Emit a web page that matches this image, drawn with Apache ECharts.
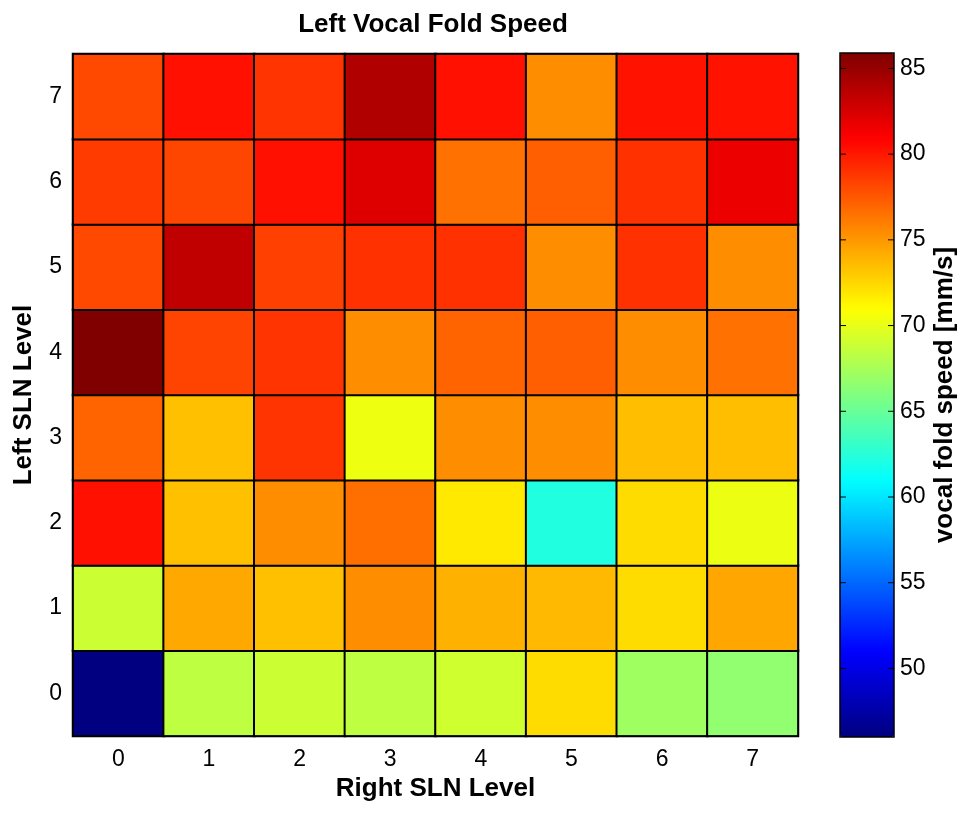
<!DOCTYPE html>
<html>
<head>
<meta charset="utf-8">
<script src="https://cdn.jsdelivr.net/npm/echarts@6/dist/echarts.min.js"></script>
<style>
html,body{margin:0;padding:0;background:#fff;}
#chart{width:967px;height:814px;}
</style>
</head>
<body>
<div id="chart"></div>
<script>
// Right SLN level (x) and Left SLN level (y) categories
const rightLevels = ['0','1','2','3','4','5','6','7'];
const leftLevels = ['0','1','2','3','4','5','6','7'];

// Left vocal fold speed [mm/s], one array per Left SLN level, values for Right SLN 0..7
const leftLevel0 = [46.0, 68.4, 68.9, 68.4, 69.1, 72.3, 67.2, 66.6];
const leftLevel1 = [68.9, 74.3, 73.4, 75.4, 74.0, 73.7, 72.3, 74.4];
const leftLevel2 = [80.3, 73.4, 75.4, 76.6, 71.8, 62.2, 72.3, 70.2];
const leftLevel3 = [77.0, 73.4, 78.9, 70.3, 75.4, 75.4, 73.5, 73.5];
const leftLevel4 = [85.9, 78.3, 78.9, 75.4, 77.0, 77.2, 75.4, 76.5];
const leftLevel5 = [78.1, 83.4, 78.4, 79.0, 79.0, 75.4, 79.0, 75.4];
const leftLevel6 = [78.6, 78.2, 80.3, 82.2, 76.5, 77.2, 79.0, 81.6];
const leftLevel7 = [78.1, 80.3, 78.9, 84.0, 80.3, 75.4, 80.2, 80.2];

// Colorbar range and tick labels
const colorMin = 46.0;
const colorMax = 85.9;
const colorTicks = [50, 55, 60, 65, 70, 75, 80, 85];

const rows = [leftLevel0, leftLevel1, leftLevel2, leftLevel3, leftLevel4, leftLevel5, leftLevel6, leftLevel7];
const data = [];
rows.forEach((row, y) => row.forEach((v, x) => data.push([x, y, v])));

const jet = ['#000080', '#0000FF', '#0080FF', '#00FFFF', '#80FF80', '#FFFF00', '#FF8000', '#FF0000', '#800000'];
const ff = "'Liberation Sans', Arial, sans-serif";

const chart = echarts.init(document.getElementById('chart'), null, {renderer: 'canvas'});
chart.setOption({
  animation: false,
  backgroundColor: '#fff',
  title: {
    text: 'Left Vocal Fold Speed',
    left: 433, top: 12, padding: 0, textAlign: 'center',
    textStyle: {fontSize: 26, fontWeight: 'bold', color: '#000', fontFamily: ff}
  },
  grid: [
    {left: 73, top: 54, width: 725, height: 682, show: true, borderColor: '#000', borderWidth: 1, backgroundColor: 'transparent', z: 3},
    {left: 840, top: 53, width: 54, height: 684, show: true, borderColor: '#000', borderWidth: 1.5, backgroundColor: 'transparent', z: 10}
  ],
  xAxis: [
    {
      type: 'category', data: rightLevels, gridIndex: 0,
      name: 'Right SLN Level', nameLocation: 'middle', nameGap: 34,
      nameTextStyle: {fontSize: 26, fontWeight: 'bold', color: '#000', fontFamily: ff},
      axisLine: {show: false}, axisTick: {show: false},
      axisLabel: {margin: 12, fontSize: 23, color: '#000', fontFamily: ff},
      splitLine: {show: false}
    },
    {type: 'value', gridIndex: 1, show: false, min: 0, max: 1}
  ],
  yAxis: [
    {
      type: 'category', data: leftLevels, gridIndex: 0,
      name: 'Left SLN Level', nameLocation: 'middle', nameGap: 36, nameRotate: 90,
      nameTextStyle: {fontSize: 26, fontWeight: 'bold', color: '#000', fontFamily: ff},
      axisLine: {show: false}, axisTick: {show: false},
      axisLabel: {margin: 11, fontSize: 23, color: '#000', fontFamily: ff},
      splitLine: {show: false}
    },
    {
      type: 'value', gridIndex: 1, min: colorMin, max: colorMax, position: 'right',
      name: 'vocal fold speed [mm/s]', nameLocation: 'middle', nameGap: 38, nameRotate: 90,
      nameTextStyle: {fontSize: 26, fontWeight: 'bold', color: '#000', fontFamily: ff},
      axisLine: {show: false},
      axisTick: {show: false},
      axisLabel: {customValues: colorTicks, margin: 6, fontSize: 23, color: '#000', fontFamily: ff},
      splitLine: {show: false}
    }
  ],
  visualMap: {
    type: 'continuous', min: colorMin, max: colorMax, calculable: false, z: 1,
    left: 840, top: 53, itemWidth: 54, itemHeight: 684, padding: 0,
    inRange: {color: jet}, seriesIndex: 0, hoverLink: false
  },
  series: [
    {
      type: 'heatmap', xAxisIndex: 0, yAxisIndex: 0, data: data,
      itemStyle: {borderColor: '#000', borderWidth: 2},
      emphasis: {disabled: true}
    },
    {
      // colorbar tick marks, inside on both edges
      type: 'custom', xAxisIndex: 1, yAxisIndex: 1, z: 20, silent: true,
      data: colorTicks,
      encode: {y: 0},
      renderItem: function (params, api) {
        const v = api.value(0);
        const l = api.coord([0, v]);
        const r = api.coord([1, v]);
        const style = {stroke: '#000', lineWidth: 1};
        return {
          type: 'group',
          children: [
            {type: 'line', shape: {x1: l[0], y1: l[1], x2: l[0] + 6, y2: l[1]}, style: style},
            {type: 'line', shape: {x1: r[0] - 6, y1: r[1], x2: r[0], y2: r[1]}, style: style}
          ]
        };
      }
    }
  ]
});
</script>
</body>
</html>
